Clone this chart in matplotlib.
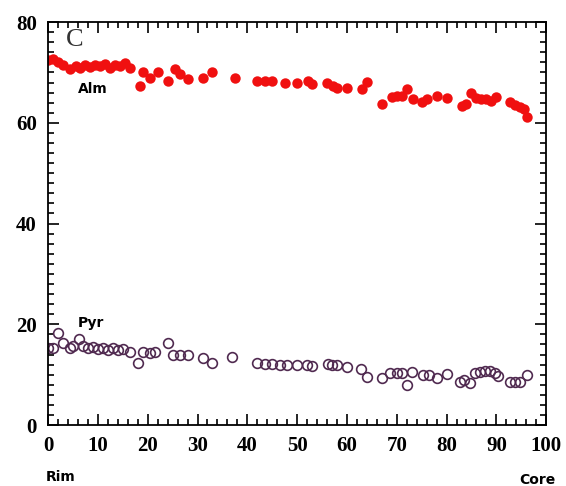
import numpy as np
import matplotlib.pyplot as plt
from matplotlib.ticker import MultipleLocator

# Alm (almandine) profile, rim -> core
alm_x = [0, 1, 2, 3, 4.4, 5.5, 6.5, 7.5, 8.5, 9.5, 10.5, 11.5, 12.5, 13.5, 14.5, 15.5, 16.5,
         18.5, 19, 20.5, 22, 24, 25.5, 26.5, 28, 31, 33, 37.5, 42, 43.5, 45, 47.5, 50,
         52.2, 53, 56, 57.2, 58, 60, 63, 64, 67, 69, 70, 71, 72, 73.3, 75, 76, 78, 80,
         83, 84, 85, 86, 87, 88, 89, 90, 92.8, 93.8, 94.8, 95.5, 96.2]
alm_y = [72.5, 72.7, 72.1, 71.5, 70.7, 71.2, 70.9, 71.4, 71.0, 71.5, 71.2, 71.6, 70.9, 71.5, 71.2, 71.8, 70.8,
         67.3, 70.0, 69.0, 70.0, 68.3, 70.7, 69.7, 68.7, 69.0, 70.0, 69.0, 68.3, 68.3, 68.3, 68.0, 68.0,
         68.3, 67.7, 68.0, 67.3, 67.0, 67.0, 66.7, 68.1, 63.7, 65.1, 65.3, 65.3, 66.7, 64.7, 64.1, 64.7, 65.3, 64.9,
         63.3, 63.7, 66.0, 65.0, 64.7, 64.7, 64.3, 65.1, 64.1, 63.5, 63.1, 62.7, 61.2]

# Pyr (pyrope) profile
pyr_x = [0, 1, 2, 3, 4.4, 5, 6.2, 7, 8, 9, 10, 11, 12, 13, 14, 15, 16.5,
         18, 19, 20.5, 21.5, 24, 25, 26.5, 28, 31, 33, 37, 42, 43.5, 45, 46.5, 48, 50,
         52, 53, 56.2, 57, 58, 60, 62.8, 64, 67, 68.7, 70, 71, 72, 73, 75.3, 76.5, 78, 80,
         82.7, 83.5, 84.7, 85.7, 86.7, 87.7, 88.7, 89.7, 90.3, 92.8, 93.8, 94.8, 96.2]
pyr_y = [15.3, 15.3, 18.3, 16.3, 15.3, 15.7, 17.1, 15.7, 15.2, 15.5, 15.0, 15.3, 14.9, 15.2, 14.8, 15.0, 14.5,
         12.3, 14.5, 14.3, 14.4, 16.3, 14.0, 14.0, 14.0, 13.3, 12.3, 13.5, 12.3, 12.2, 12.1, 12.0, 12.0, 12.0,
         12.0, 11.7, 12.1, 12.0, 12.0, 11.6, 11.1, 9.6, 9.4, 10.4, 10.4, 10.4, 8.0, 10.6, 10.0, 10.0, 9.4, 10.2,
         8.6, 9.0, 8.4, 10.4, 10.6, 10.7, 10.8, 10.3, 9.7, 8.6, 8.6, 8.6, 10.0]

fig = plt.figure(figsize=(5.66, 4.86), dpi=100)
ax = fig.add_axes([0.085, 0.1255, 0.88, 0.829])

ax.plot(alm_x, alm_y, 'o', color='#f01010', markersize=7.5, markeredgewidth=0)
ax.plot(pyr_x, pyr_y, 'o', markerfacecolor='none', markeredgecolor='#502a50',
        markersize=7, markeredgewidth=1.2)

ax.set_xlim(0, 100)
ax.set_ylim(0, 80)
ax.xaxis.set_major_locator(MultipleLocator(10))
ax.xaxis.set_minor_locator(MultipleLocator(2))
ax.yaxis.set_major_locator(MultipleLocator(20))
ax.yaxis.set_minor_locator(MultipleLocator(2))
ax.tick_params(which='both', direction='in', top=True, right=True, width=1.2)
ax.tick_params(which='major', length=8, pad=8)
ax.tick_params(which='minor', length=4)
for lab in ax.get_xticklabels() + ax.get_yticklabels():
    lab.set_fontfamily('Liberation Serif')
    lab.set_fontweight('bold')
    lab.set_fontsize(15)
for s in ax.spines.values():
    s.set_linewidth(1.3)

ax.text(3.5, 75.3, 'C', fontsize=19, family='Liberation Serif', color='#333333')
ax.text(6, 66, 'Alm', fontsize=10, fontweight='bold', family='DejaVu Sans')
ax.text(6, 19.5, 'Pyr', fontsize=10, fontweight='bold', family='DejaVu Sans')
fig.text(0.08, 0.01, 'Rim', fontsize=10, fontweight='bold', family='DejaVu Sans')
fig.text(0.918, 0.005, 'Core', fontsize=10, fontweight='bold', family='DejaVu Sans')

fig.savefig('out.png', dpi=100)
